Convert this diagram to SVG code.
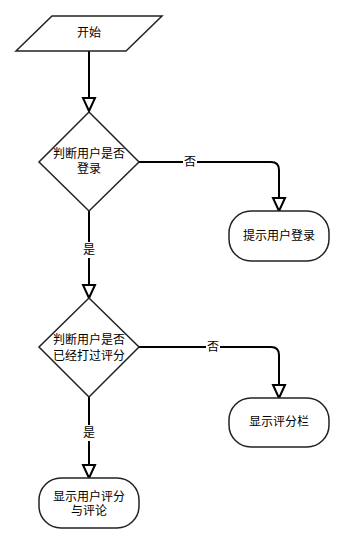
<svg xmlns="http://www.w3.org/2000/svg" width="349" height="555" viewBox="0 0 349 555">
<style>
.node{fill:#fff;stroke:#222;stroke-width:1.5}
.t{font-family:"Liberation Sans","Noto Sans CJK SC",sans-serif;font-size:12px;fill:#000;text-anchor:middle;dominant-baseline:central}
.edge{fill:none;stroke:#000;stroke-width:2}
.lbg{fill:#fff}
</style>
<defs>
<marker id="arr" markerUnits="userSpaceOnUse" markerWidth="18" markerHeight="18" viewBox="-2 -8 18 16" refX="13" refY="0" orient="auto">
<path d="M0,-6 L13,0 L0,6 Z" fill="#fff" stroke="#000" stroke-width="2" stroke-linejoin="miter"/>
</marker>
</defs>
<rect width="349" height="555" fill="#fff"/>
<g id="connectors">
<path class="edge" d="M89,51 L89,111" marker-end="url(#arr)"/>
<path class="edge" d="M139,162 L271,162 Q279,162 279,170 L279,211" marker-end="url(#arr)"/>
<path class="edge" d="M89,210 L89,298" marker-end="url(#arr)"/>
<path class="edge" d="M139,347 L271,347 Q279,347 279,355 L279,398" marker-end="url(#arr)"/>
<path class="edge" d="M89,397 L89,478" marker-end="url(#arr)"/>
<rect class="lbg" x="183" y="154" width="14" height="16"/>
<text class="t" x="190" y="162">否</text>
<rect class="lbg" x="82" y="242" width="14" height="16"/>
<text class="t" x="89" y="250">是</text>
<rect class="lbg" x="206" y="339" width="14" height="16"/>
<text class="t" x="213" y="347">否</text>
<rect class="lbg" x="82" y="425" width="14" height="16"/>
<text class="t" x="89" y="433">是</text>
</g>
<g id="start">
<polygon class="node" points="52,16 162,16 126,51 16,51"/>
<text class="t" x="89" y="33">开始</text>
</g>
<g id="check-login">
<polygon class="node" points="89,112 139,162 89,211 39,162"/>
<text class="t" x="89" y="154">判断用户是否</text>
<text class="t" x="89" y="169">登录</text>
</g>
<g id="prompt-login">
<rect class="node" x="229" y="211" width="100" height="50" rx="22" ry="22"/>
<text class="t" x="279" y="236">提示用户登录</text>
</g>
<g id="check-rated">
<polygon class="node" points="89,298 139,347 89,397 39,347"/>
<text class="t" x="89" y="340">判断用户是否</text>
<text class="t" x="89" y="356">已经打过评分</text>
</g>
<g id="show-rating-bar">
<rect class="node" x="229" y="398" width="100" height="49" rx="22" ry="22"/>
<text class="t" x="279" y="422">显示评分栏</text>
</g>
<g id="show-ratings">
<rect class="node" x="39" y="478" width="100" height="50" rx="22" ry="22"/>
<text class="t" x="89" y="497">显示用户评分</text>
<text class="t" x="89" y="511">与评论</text>
</g>
</svg>
